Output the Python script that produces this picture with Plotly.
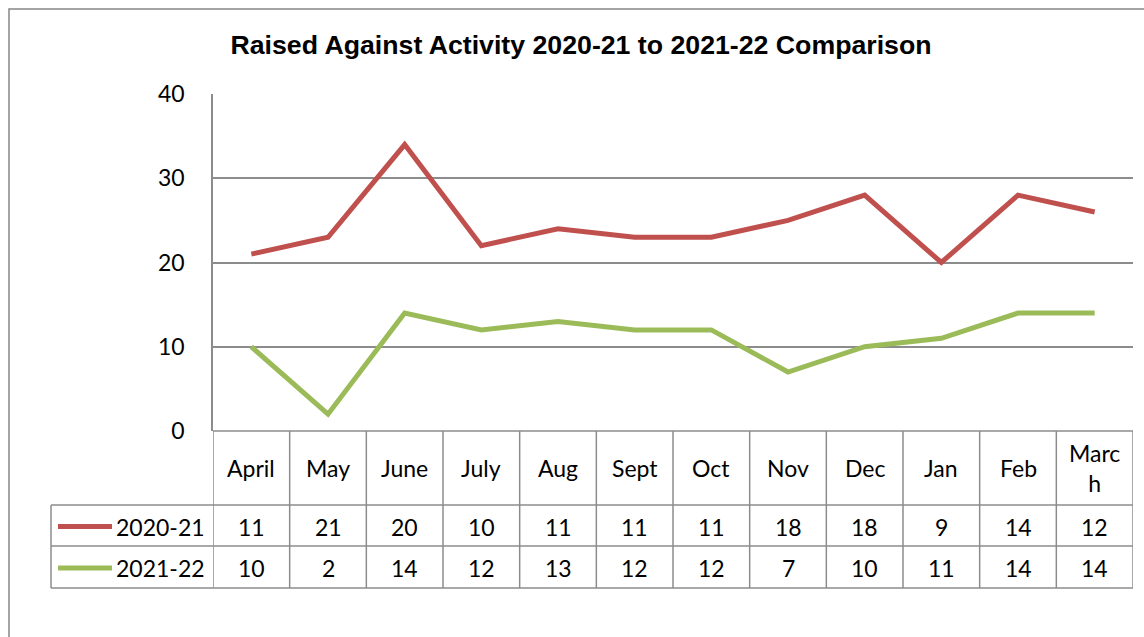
import plotly.graph_objects as go

# Monthly counts per financial year
months = ["April", "May", "June", "July", "Aug", "Sept", "Oct", "Nov", "Dec", "Jan", "Feb", "March"]
fy_2020_21 = [11, 21, 20, 10, 11, 11, 11, 18, 18, 9, 14, 12]
fy_2021_22 = [10, 2, 14, 12, 13, 12, 12, 7, 10, 11, 14, 14]
y_ticks = [0, 10, 20, 30, 40]

series = [("2020-21", fy_2020_21, "#C0504D"), ("2021-22", fy_2021_22, "#9BBB59")]

W, H = 1144, 637
px_x = lambda p: p / W
px_y = lambda p: 1 - p / H

PLOT_L, PLOT_R, PLOT_T, PLOT_B = 213, 1133, 94, 431
ROW_EDGES = [431, 505, 546, 588]
TABLE_L = 51
GRID = "#8C8C8C"
FONT = "Lato"
FS = 23

xs = list(range(len(months)))
fig = go.Figure()

# Stacked lines: 2021-22 is the base, 2020-21 is stacked on top
for name, vals, color in reversed(series):
    fig.add_trace(go.Scatter(
        x=xs, y=vals, name=name, mode="lines", stackgroup="one", fill="none",
        line=dict(color=color, width=5), showlegend=False, hoverinfo="skip",
    ))

shapes = []
annotations = []

# outer chart frame
shapes.append(dict(type="rect", xref="paper", yref="paper",
                   x0=px_x(9), x1=1.005, y0=-0.005, y1=px_y(9),
                   line=dict(color="#878787", width=1.5)))

# data table horizontal rules
for i, ry in enumerate(ROW_EDGES):
    x0 = PLOT_L if i == 0 else TABLE_L
    shapes.append(dict(type="line", xref="paper", yref="paper",
                       x0=px_x(x0), x1=px_x(PLOT_R), y0=px_y(ry), y1=px_y(ry),
                       line=dict(color=GRID, width=1.5)))
# table vertical rules at category boundaries
for k in range(len(months) + 1):
    shapes.append(dict(type="line", xref="x", yref="paper",
                       x0=k - 0.5, x1=k - 0.5, y0=px_y(ROW_EDGES[-1]), y1=px_y(ROW_EDGES[0]),
                       line=dict(color=GRID, width=1.5)))
# left edge of series-name column
shapes.append(dict(type="line", xref="paper", yref="paper",
                   x0=px_x(TABLE_L), x1=px_x(TABLE_L), y0=px_y(ROW_EDGES[-1]), y1=px_y(ROW_EDGES[1]),
                   line=dict(color=GRID, width=1.5)))

# header row: month names (March wraps in its narrow cell)
hdr_y = px_y((ROW_EDGES[0] + ROW_EDGES[1]) / 2)
for k, m in enumerate(months):
    label = "Marc<br>h" if m == "March" else m
    annotations.append(dict(x=k, y=hdr_y, xref="x", yref="paper", text=label, showarrow=False,
                            yanchor="middle", xanchor="center",
                            font=dict(family=FONT, size=FS, color="black"), align="center"))

# value rows with legend keys
for r, (name, vals, color) in enumerate(series):
    top, bot = ROW_EDGES[r + 1], ROW_EDGES[r + 2]
    cy = px_y((top + bot) / 2 + 1)
    shapes.append(dict(type="line", xref="paper", yref="paper",
                       x0=px_x(58), x1=px_x(112), y0=cy, y1=cy,
                       line=dict(color=color, width=5)))
    annotations.append(dict(x=px_x(207), y=cy, xref="paper", yref="paper", text=name,
                            xanchor="right", yanchor="middle", showarrow=False,
                            font=dict(family=FONT, size=FS, color="black")))
    for k, v in enumerate(vals):
        annotations.append(dict(x=k, y=cy, xref="x", yref="paper", text=str(v), showarrow=False,
                                xanchor="center", yanchor="middle",
                                font=dict(family=FONT, size=FS, color="black")))

fig.update_layout(
    width=W, height=H,
    margin=dict(l=0, r=0, t=0, b=0, autoexpand=False),
    paper_bgcolor="white", plot_bgcolor="white",
    title=dict(text="<b>Raised Against Activity 2020-21 to 2021-22 Comparison</b>",
               x=px_x(581), xanchor="center", y=px_y(45), yanchor="middle",
               font=dict(family="Liberation Sans, Arial", size=26.7, color="black")),
    xaxis=dict(domain=[px_x(PLOT_L), px_x(PLOT_R)], range=[-0.5, len(months) - 0.5],
               showticklabels=False, showgrid=False, zeroline=False, showline=False, ticks=""),
    yaxis=dict(domain=[px_y(PLOT_B), px_y(PLOT_T)], range=[0, 40], tickvals=y_ticks,
               showgrid=True, gridcolor=GRID, gridwidth=1.5, zeroline=False,
               showline=True, linecolor=GRID, linewidth=1.5,
               ticks="", ticklabelstandoff=22,
               tickfont=dict(family=FONT, size=23, color="black")),
    shapes=shapes, annotations=annotations,
)

fig.write_html("out.html")
